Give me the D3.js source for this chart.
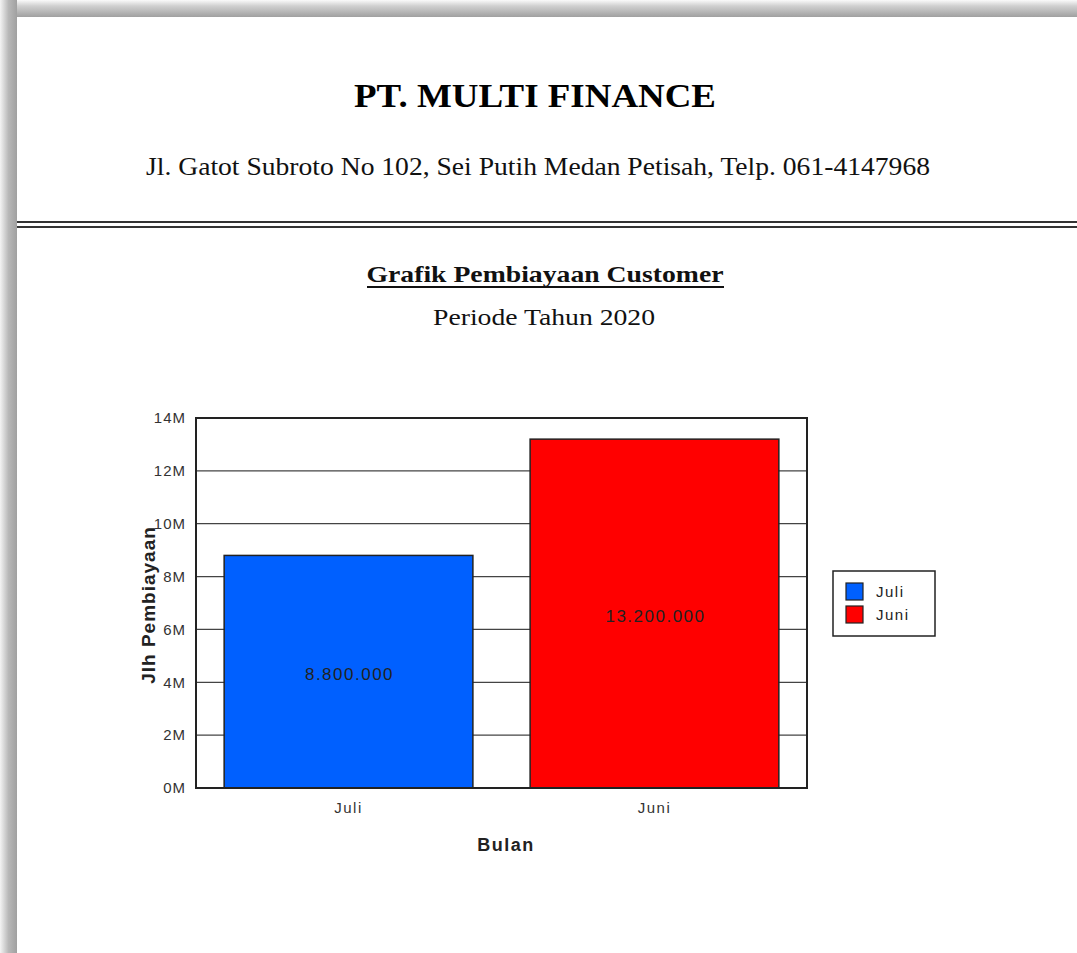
<!DOCTYPE html>
<html>
<head>
<meta charset="utf-8">
<script src="https://cdn.jsdelivr.net/npm/d3@7"></script>
<style>
  body { margin: 0; background: #fff; }
  svg { display: block; }
</style>
</head>
<body>
<svg id="chart" width="1077" height="953"></svg>
<script>
var months = ["Juli", "Juni"];
var amounts = [8800000, 13200000];
var barColors = ["#0060ff", "#ff0000"];
var yTicks = [0, 2e6, 4e6, 6e6, 8e6, 10e6, 12e6, 14e6];

var companyName = "PT. MULTI FINANCE";
var companyAddress = "Jl. Gatot Subroto No 102, Sei Putih Medan Petisah, Telp. 061-4147968";
var chartTitle = "Grafik Pembiayaan Customer";
var chartPeriod = "Periode Tahun 2020";

var svg = d3.select("#chart");
var W = 1077, H = 953;

// page shadow (left + top)
var defs = svg.append("defs");
var gl = defs.append("linearGradient").attr("id", "shadowL").attr("x1", 0).attr("x2", 1).attr("y1", 0).attr("y2", 0);
gl.append("stop").attr("offset", "0%").attr("stop-color", "#f4f4f4");
gl.append("stop").attr("offset", "50%").attr("stop-color", "#b8b8b8");
gl.append("stop").attr("offset", "100%").attr("stop-color", "#a0a0a0");
var gt = defs.append("linearGradient").attr("id", "shadowT").attr("x1", 0).attr("x2", 0).attr("y1", 0).attr("y2", 1);
gt.append("stop").attr("offset", "0%").attr("stop-color", "#fafafa");
gt.append("stop").attr("offset", "35%").attr("stop-color", "#d0d0d0");
gt.append("stop").attr("offset", "100%").attr("stop-color", "#a0a0a0");

svg.append("rect").attr("x", 0).attr("y", 0).attr("width", W).attr("height", 17).attr("fill", "url(#shadowT)");
svg.append("rect").attr("x", 0).attr("y", 0).attr("width", 17).attr("height", H).attr("fill", "url(#shadowL)");

// header
svg.append("text")
    .attr("x", 535).attr("y", 107)
    .attr("text-anchor", "middle")
    .attr("font-family", "'Liberation Serif', 'Times New Roman', serif")
    .attr("font-weight", "bold")
    .attr("font-size", 34)
    .attr("textLength", 362).attr("lengthAdjust", "spacingAndGlyphs")
    .text(companyName);

svg.append("text")
    .attr("x", 538).attr("y", 175)
    .attr("text-anchor", "middle")
    .attr("font-family", "'Liberation Serif', 'Times New Roman', serif")
    .attr("font-size", 26)
    .attr("textLength", 784).attr("lengthAdjust", "spacingAndGlyphs")
    .attr("fill", "#111")
    .text(companyAddress);

[222, 227].forEach(function (yy) {
  svg.append("line")
      .attr("x1", 17).attr("x2", W)
      .attr("y1", yy).attr("y2", yy)
      .attr("stroke", "#333").attr("stroke-width", 2);
});

svg.append("text")
    .attr("x", 545).attr("y", 282)
    .attr("text-anchor", "middle")
    .attr("font-family", "'Liberation Serif', 'Times New Roman', serif")
    .attr("font-weight", "bold")
    .attr("font-size", 24)
    .attr("textLength", 357).attr("lengthAdjust", "spacingAndGlyphs")
    .attr("fill", "#111")
    .text(chartTitle);
svg.append("line")
    .attr("x1", 367).attr("x2", 724).attr("y1", 287).attr("y2", 287)
    .attr("stroke", "#111").attr("stroke-width", 2);

svg.append("text")
    .attr("x", 544).attr("y", 325)
    .attr("text-anchor", "middle")
    .attr("font-family", "'Liberation Serif', 'Times New Roman', serif")
    .attr("font-size", 24)
    .attr("textLength", 222).attr("lengthAdjust", "spacingAndGlyphs")
    .attr("fill", "#111")
    .text(chartPeriod);

// chart
var plot = { left: 196, top: 418, right: 807, bottom: 788 };

var x = d3.scaleBand()
    .domain(months)
    .range([plot.left, plot.right])
    .paddingInner(0.187)
    .paddingOuter(0.092);

var y = d3.scaleLinear()
    .domain([0, 14e6])
    .range([plot.bottom, plot.top]);

var rupiah = d3.formatLocale({ decimal: ",", thousands: ".", grouping: [3], currency: ["", ""] }).format(",d");

var g = svg.append("g");

// grid lines
g.append("g")
    .selectAll("line")
    .data(yTicks)
    .join("line")
      .attr("x1", plot.left).attr("x2", plot.right)
      .attr("y1", function (d) { return y(d); })
      .attr("y2", function (d) { return y(d); })
      .attr("stroke", "#444").attr("stroke-width", 1.2);

// bars
g.append("g")
    .selectAll("rect")
    .data(amounts)
    .join("rect")
      .attr("x", function (d, i) { return x(months[i]); })
      .attr("y", function (d) { return y(d); })
      .attr("width", x.bandwidth())
      .attr("height", function (d) { return y(0) - y(d); })
      .attr("fill", function (d, i) { return barColors[i]; })
      .attr("stroke", "#222").attr("stroke-width", 1.5);

// value labels
g.append("g")
    .selectAll("text")
    .data(amounts)
    .join("text")
      .attr("x", function (d, i) { return x(months[i]) + x.bandwidth() / 2 + 1; })
      .attr("y", function (d) { return (y(d) + y(0)) / 2 + 8; })
      .attr("text-anchor", "middle")
      .attr("font-family", "'Liberation Sans', Arial, sans-serif")
      .attr("font-size", 17)
      .attr("letter-spacing", 1.5)
      .attr("fill", "#222")
      .text(function (d) { return rupiah(d); });

// frame
g.append("rect")
    .attr("x", plot.left).attr("y", plot.top)
    .attr("width", plot.right - plot.left).attr("height", plot.bottom - plot.top)
    .attr("fill", "none").attr("stroke", "#222").attr("stroke-width", 2);

// y axis
var yAxis = g.append("g")
    .attr("transform", "translate(" + plot.left + ",0)")
    .call(d3.axisLeft(y).tickValues(yTicks).tickSize(0).tickPadding(10)
      .tickFormat(function (d) { return (d / 1e6) + "M"; }));
yAxis.select(".domain").remove();
yAxis.selectAll("text")
    .attr("font-family", "'Liberation Sans', Arial, sans-serif")
    .attr("font-size", 15)
    .attr("letter-spacing", 1)
    .attr("fill", "#333");

// x axis
var xAxis = g.append("g")
    .attr("transform", "translate(0," + plot.bottom + ")")
    .call(d3.axisBottom(x).tickSize(0).tickPadding(14));
xAxis.select(".domain").remove();
xAxis.selectAll("text")
    .attr("font-family", "'Liberation Sans', Arial, sans-serif")
    .attr("font-size", 15)
    .attr("letter-spacing", 1.5)
    .attr("fill", "#333");

// axis titles
svg.append("text")
    .attr("x", 506).attr("y", 851)
    .attr("text-anchor", "middle")
    .attr("font-family", "'Liberation Sans', Arial, sans-serif")
    .attr("font-weight", "bold")
    .attr("font-size", 18)
    .attr("letter-spacing", 1.5)
    .attr("fill", "#222")
    .text("Bulan");

svg.append("text")
    .attr("transform", "translate(155," + ((plot.top + plot.bottom) / 2 + 2) + ") rotate(-90)")
    .attr("text-anchor", "middle")
    .attr("font-family", "'Liberation Sans', Arial, sans-serif")
    .attr("font-weight", "bold")
    .attr("font-size", 19)
    .attr("letter-spacing", 1)
    .attr("fill", "#222")
    .text("Jlh Pembiayaan");

// legend
var legend = svg.append("g").attr("transform", "translate(833,571)");
legend.append("rect")
    .attr("width", 102).attr("height", 65)
    .attr("fill", "#fff").attr("stroke", "#222").attr("stroke-width", 1.5);
var item = legend.selectAll("g.item")
    .data(months)
    .join("g")
      .attr("class", "item")
      .attr("transform", function (d, i) { return "translate(13," + (12 + i * 23) + ")"; });
item.append("rect")
    .attr("width", 17).attr("height", 17)
    .attr("fill", function (d, i) { return barColors[i]; })
    .attr("stroke", "#222").attr("stroke-width", 1.2);
item.append("text")
    .attr("x", 30).attr("y", 14)
    .attr("font-family", "'Liberation Sans', Arial, sans-serif")
    .attr("font-size", 15)
    .attr("letter-spacing", 1.5)
    .attr("fill", "#222")
    .text(function (d) { return d; });
</script>
</body>
</html>
